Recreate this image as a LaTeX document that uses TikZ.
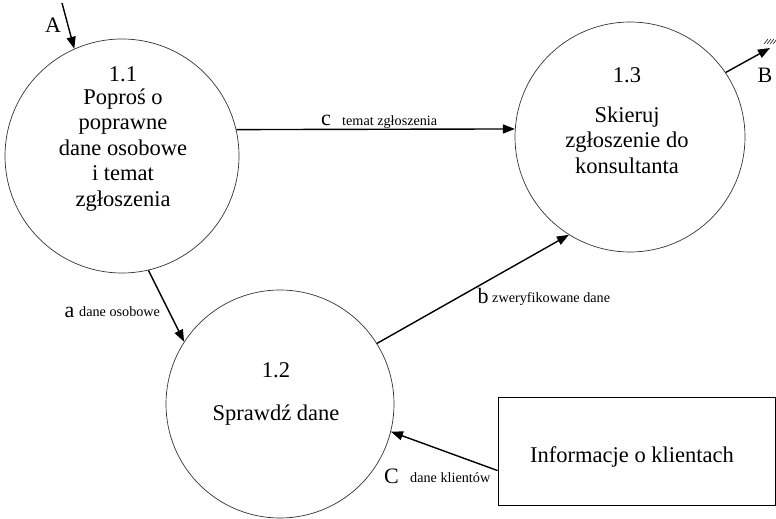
\documentclass[tikz,border=0pt]{standalone}
\usepackage{fontspec}
\setmainfont{Liberation Serif}
\usetikzlibrary{calc,arrows.meta}
\tikzset{>={Triangle[length=12pt,width=9pt]}}
\tikzset{
  proc/.style={draw=black!80,circle,line width=0.7pt,inner sep=0pt},
  store/.style={draw,line width=0.8pt,inner sep=0pt},
  flow/.style={->,line width=1.4pt},
  proctext/.style={font=\fontsize{22.5}{25.5}\selectfont,align=center,inner sep=0pt},
  flowname/.style={font=\fontsize{22}{24}\selectfont,inner sep=0pt,anchor=base},
  flowtext/.style={font=\fontsize{14.2}{16}\selectfont,inner sep=0pt,anchor=base west}
}

\begin{document}
\begin{tikzpicture}[x=1pt,y=-1pt]
\useasboundingbox (0,0) rectangle (776,519);
% processes and store
\node[proc,minimum size=234pt] (p11) at (122,156) {};
\node[proc,minimum size=228pt] (p12) at (280,404) {};
\node[proc,minimum size=230pt] (p13) at (630,137) {};
\node[store,minimum width=277pt,minimum height=108pt] (klienci) at (636.5,451) {};
\node[proctext] (t11) at (123,139) {1.1\\[-3pt]Poproś o\\poprawne\\dane osobowe\\i temat\\zgłoszenia};
\node[proctext] (t12) at (276,393.5) {1.2\\[17.5pt]Sprawdź dane};
\node[proctext] (t13) at (627,120.5) {1.3\\[14pt]Skieruj\\zgłoszenie do\\konsultanta};
\node[proctext,anchor=base] (tk) at (632,462) {Informacje o klientach};
% free ends
\coordinate (srcA) at (62,3);
\coordinate (sinkB) at (770,48);
\coordinate (srcC) at ($(klienci.south west)!0.32!(klienci.north west)$);
% flows
\draw[flow] (srcA) -- (p11.114);
\draw[flow] (p11.-77) -- (p12.147);
\draw[flow] (p11.13) -- (p13.176.5);
\draw[flow] (p12.32) -- (p13.-122);
\draw[flow] (srcC) -- (p12.-14);
\draw[flow] (p13.34) -- (sinkB);
\foreach \i in {0,...,3}
  \draw[line width=0.5pt] ($(sinkB)+(-6+3*\i,-4)$) -- ++(4,-5);
% labels
\node[flowname] (lA) at (53,33) {A};
\node[flowname] (lB) at (765,82) {B};
\node[flowname] (lC) at (391.5,483) {C};
\node[flowtext] (dC) at (410,482) {dane klientów};
\node[flowname] (la) at (69.5,317) {a};
\node[flowtext] (da) at (79,316) {dane osobowe};
\node[flowname] (lb) at (483,303) {b};
\node[flowtext] (db) at (492,302) {zweryfikowane dane};
\node[flowname] (lc) at (326,125) {c};
\node[flowtext] (dc) at (342,125) {temat zgłoszenia};
\end{tikzpicture}
\end{document}
